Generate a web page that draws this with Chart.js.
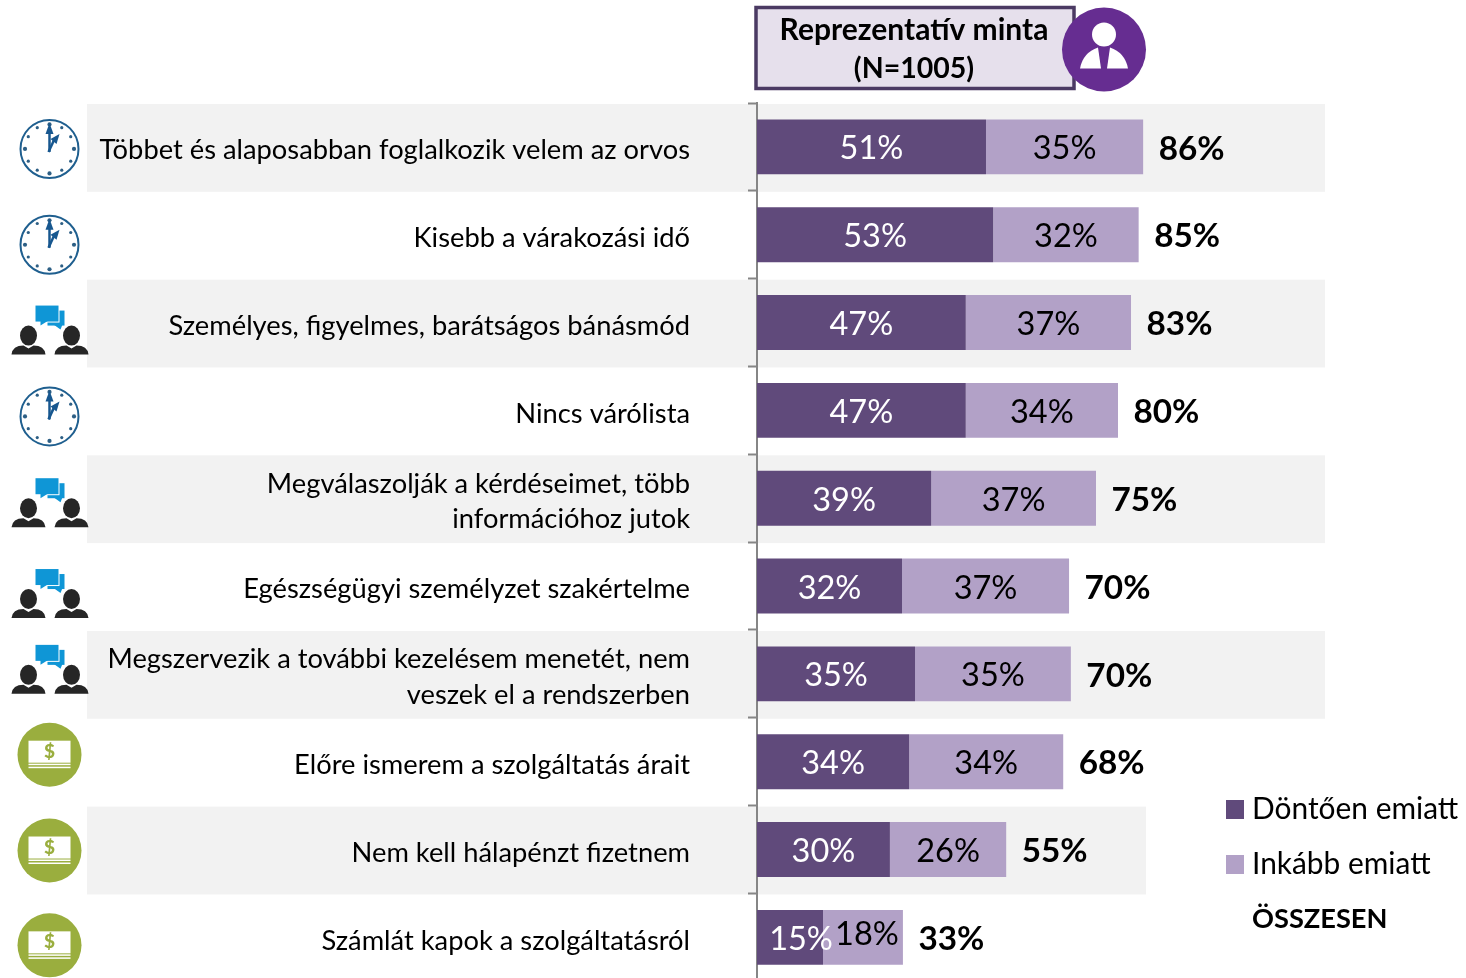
<!DOCTYPE html>
<html lang="hu">
<head>
<meta charset="utf-8">
<title>Reprezentatív minta</title>
<script src="https://cdn.jsdelivr.net/npm/chart.js@4"></script>
<style>
  html, body { margin: 0; height: 100%; overflow: hidden; background: #fff; }
  canvas { display: block; }
</style>
</head>
<body>
<canvas id="chart" width="1466" height="1057"></canvas>
<script>
"use strict";

const categories = [
  "Többet és alaposabban foglalkozik velem az orvos",
  "Kisebb a várakozási idő",
  "Személyes, figyelmes, barátságos bánásmód",
  "Nincs várólista",
  ["Megválaszolják a kérdéseimet, több", "információhoz jutok"],
  "Egészségügyi személyzet szakértelme",
  ["Megszervezik a további kezelésem menetét, nem", "veszek el a rendszerben"],
  "Előre ismerem a szolgáltatás árait",
  "Nem kell hálapénzt fizetnem",
  "Számlát kapok a szolgáltatásról",
];
const dontoen = [51, 52.6, 46.5, 46.5, 38.8, 32.3, 35.2, 33.9, 29.6, 14.7];
const inkabb = [35, 32.4, 36.8, 33.9, 36.7, 37.2, 34.7, 34.3, 25.9, 17.8];
const osszesen = [86, 85, 83, 80, 75, 70, 70, 68, 55, 33];
const seriesNames = ["Döntően emiatt", "Inkább emiatt", "ÖSSZESEN"];
const headerLines = ["Reprezentatív minta", "(N=1005)"];
const rowIcons = ["clock", "clock", "people", "clock", "people", "people", "people", "money", "money", "money"];

const DARK = "#604a7b", LIGHT = "#b2a1c7", BAND = "#f2f2f2", AXIS = "#868686";
const FONT = "Lato, Carlito, sans-serif";

/* icon centres sit a bit off the row centres in the original slide */
const ICON_DY = [2, 10, 6, 6, 3, 6, -6, -7, 1, 8];

function disc(c, x, y, r, fill) {
  c.fillStyle = fill;
  c.beginPath(); c.arc(x, y, r, 0, Math.PI * 2); c.fill();
}

function drawClock(c, x, y) {
  c.strokeStyle = "#1f5f8f"; c.lineWidth = 2;
  c.beginPath(); c.arc(x, y, 29, 0, Math.PI * 2); c.stroke();
  for (let i = 0; i < 12; i++) {
    const a = i * Math.PI / 6;
    disc(c, x + Math.cos(a) * 24.5, y + Math.sin(a) * 24.5, i % 3 ? 1.6 : 2.1, "#2d5f85");
  }
  c.strokeStyle = c.fillStyle = "#17578f"; c.lineWidth = 2.5;
  c.beginPath(); c.moveTo(x, y + 3); c.lineTo(x, y - 20); c.stroke();
  c.beginPath(); c.moveTo(x, y - 26); c.lineTo(x - 4, y - 15); c.lineTo(x + 4, y - 15); c.fill();
  c.beginPath(); c.moveTo(x - 1, y + 3); c.lineTo(x + 5, y - 10); c.stroke();
  c.beginPath(); c.moveTo(x + 10, y - 15); c.lineTo(x + 1, y - 10); c.lineTo(x + 7, y - 5); c.fill();
}

function drawPeople(c, x, y) {
  c.fillStyle = "#0f96d6";
  c.fillRect(x - 2, y - 18, 17, 15);
  c.beginPath(); c.moveTo(x + 4, y - 4); c.lineTo(x + 13, y - 4); c.lineTo(x + 11, y + 1); c.fill();
  c.fillStyle = "#fff";
  c.fillRect(x - 15, y - 24, 25, 18);
  c.fillStyle = "#0f96d6";
  c.fillRect(x - 14, y - 23, 23, 16);
  c.beginPath(); c.moveTo(x - 9, y - 8); c.lineTo(x - 1, y - 8); c.lineTo(x - 9, y - 3); c.fill();
  [-21, 22].forEach((dx) => {
    c.fillStyle = "#262626";
    c.beginPath(); c.ellipse(x + dx, y + 7, 8.5, 10, 0, 0, Math.PI * 2); c.fill();
    c.beginPath(); c.moveTo(x + dx - 17, y + 26);
    c.quadraticCurveTo(x + dx - 16, y + 17, x + dx - 5, y + 17);
    c.lineTo(x + dx, y + 20); c.lineTo(x + dx + 5, y + 17);
    c.quadraticCurveTo(x + dx + 16, y + 17, x + dx + 17, y + 26);
    c.fill();
  });
}

function drawMoney(c, x, y) {
  disc(c, x, y, 32, "#9aae3e");
  c.fillStyle = "#fff";
  c.fillRect(x - 21, y - 14, 42, 22);
  c.fillRect(x - 21, y + 9, 42, 1.5);
  c.fillRect(x - 21, y + 12, 42, 1.5);
  c.fillStyle = "#9aae3e";
  c.font = "900 19px " + FONT;
  c.textAlign = "center"; c.textBaseline = "middle";
  c.fillText("$", x, y - 3);
}

function drawPerson(c, x, y) {
  disc(c, x, y, 42, "#662d91");
  disc(c, x, y - 15, 12, "#fff");
  c.fillStyle = "#fff";
  c.beginPath(); c.moveTo(x - 24, y + 19);
  c.quadraticCurveTo(x - 21, y + 3, x - 6, y - 2);
  c.lineTo(x - 3, y + 19); c.fill();
  c.beginPath(); c.moveTo(x + 24, y + 19);
  c.quadraticCurveTo(x + 21, y + 3, x + 6, y - 2);
  c.lineTo(x + 3, y + 19); c.fill();
}

const ICONS = { clock: drawClock, people: drawPeople, money: drawMoney };

const slidePlugin = {
  id: "slide",
  beforeDraw(chart) {
    const c = chart.ctx, y = chart.scales.y;
    const step = y.height / categories.length;
    c.save();
    c.fillStyle = BAND;
    categories.forEach((_, i) => {
      if (i % 2) return;
      const right = i === 8 ? 1146 : 1325;
      c.fillRect(87, y.getPixelForTick(i) - step / 2 + 1, right - 87, step);
    });
    c.restore();
  },
  afterDraw(chart) {
    const c = chart.ctx, y = chart.scales.y, x = chart.scales.x;
    c.save();

    rowIcons.forEach((kind, i) => {
      ICONS[kind](c, 49.5, y.getPixelForTick(i) + ICON_DY[i]);
    });

    /* value labels inside the bars */
    c.textBaseline = "middle"; c.textAlign = "center";
    c.font = "32.5px " + FONT;
    chart.getDatasetMeta(0).data.forEach((bar, i) => {
      c.fillStyle = "#fff";
      c.fillText(Math.round(dontoen[i]) + "%", bar.x - (bar.x - bar.base) / 2 + (i === 9 ? 11 : 0), bar.y + 2);
    });
    chart.getDatasetMeta(1).data.forEach((bar, i) => {
      c.fillStyle = "#000";
      c.fillText(Math.round(inkabb[i]) + "%", bar.x - (bar.x - bar.base) / 2 + (i === 9 ? 4 : 0), bar.y + (i === 9 ? -3 : 2));
    });

    /* totals, right of the stack */
    c.textAlign = "left"; c.font = "bold 33.3px " + FONT; c.fillStyle = "#000";
    osszesen.forEach((t, i) => {
      const end = x.getPixelForValue(dontoen[i] + inkabb[i]);
      c.fillText(t + "%", end + 15.5, y.getPixelForTick(i) + 2);
    });

    /* legend */
    const legY = [809, 864, 919], fills = [DARK, LIGHT, null];
    seriesNames.forEach((name, i) => {
      if (fills[i]) { c.fillStyle = fills[i]; c.fillRect(1226, legY[i] - 9, 18, 19); }
      c.fillStyle = "#000";
      c.font = i === 2 ? "bold 27.2px " + FONT : "29.9px " + FONT;
      c.fillText(name, 1252, legY[i]);
    });

    /* header box */
    c.fillStyle = "#e6e0ec"; c.strokeStyle = "#4b3a63"; c.lineWidth = 3.5;
    c.fillRect(756, 7.5, 318, 81); c.strokeRect(756, 7.5, 318, 81);
    c.fillStyle = "#000"; c.textAlign = "center";
    c.font = "bold 30px " + FONT;
    c.fillText(headerLines[0], 914, 30);
    c.font = "bold 28.5px " + FONT;
    c.fillText(headerLines[1], 914, 69);
    drawPerson(c, 1104, 49.5);

    c.restore();
  },
};

new Chart(document.getElementById("chart"), {
  type: "bar",
  data: {
    labels: categories,
    datasets: [
      { label: seriesNames[0], data: dontoen, backgroundColor: DARK },
      { label: seriesNames[1], data: inkabb, backgroundColor: LIGHT },
    ],
  },
  options: {
    indexAxis: "y",
    responsive: false,
    animation: false,
    devicePixelRatio: 1,
    layout: { padding: { top: 103, right: 260, bottom: 18, left: 0 } },
    datasets: { bar: { categoryPercentage: 1, barPercentage: 0.625 } },
    plugins: { legend: { display: false }, tooltip: { enabled: false } },
    scales: {
      x: { display: false, stacked: true, min: 0, max: 100 },
      y: {
        stacked: true,
        afterFit: (s) => { s.width = 757; },
        border: { color: AXIS, width: 2 },
        grid: { offset: true, drawOnChartArea: false, color: AXIS, tickLength: 9, tickWidth: 2 },
        ticks: {
          autoSkip: false, padding: 58, labelOffset: 3.5, color: "#000",
          font: { family: FONT, size: 27.3, lineHeight: 1.3 },
        },
      },
    },
  },
  plugins: [slidePlugin],
});
</script>
</body>
</html>
